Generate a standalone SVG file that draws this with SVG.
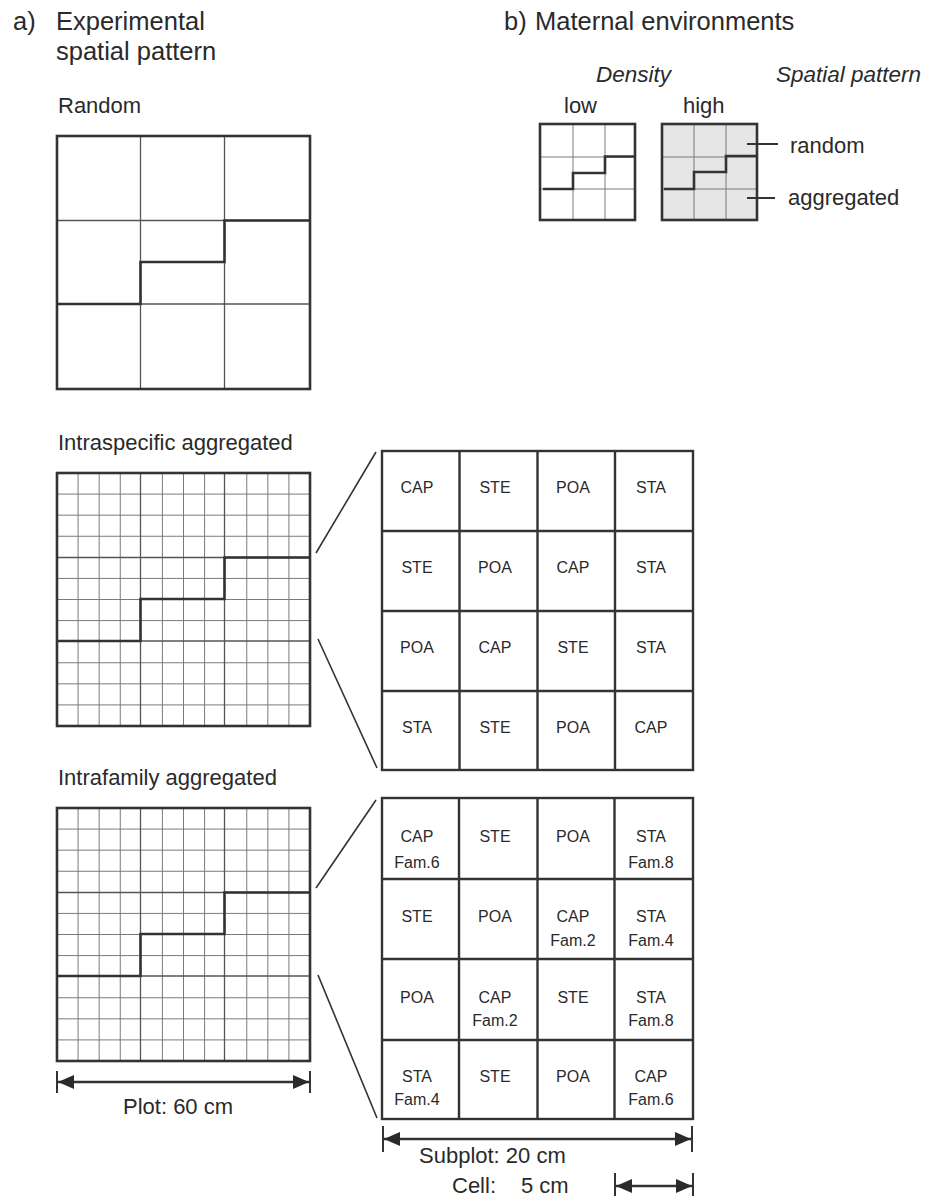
<svg xmlns="http://www.w3.org/2000/svg" xmlns:xlink="http://www.w3.org/1999/xlink" width="929" height="1196" viewBox="0 0 929 1196">
<style>
text{font-family:"Liberation Sans",Arial,Helvetica,sans-serif;fill:#2a2a2a}
.h{font-size:25.5px}
.l{font-size:22px}
.it{font-size:22.5px;font-style:italic}
.c{font-size:16px;text-anchor:middle}
.outer{fill:none;stroke:#333;stroke-width:2.6}
.third{fill:none;stroke:#555;stroke-width:1.3}
.fine{fill:none;stroke:#7a7a7a;stroke-width:1}
.stair{fill:none;stroke:#333;stroke-width:2.6}
.cell{fill:none;stroke:#333;stroke-width:2.4}
.conn{fill:none;stroke:#333;stroke-width:1.6}
.dim{fill:none;stroke:#333;stroke-width:2.4}
.tick{fill:none;stroke:#333;stroke-width:2}
</style>
<defs>
<marker id="ah" viewBox="0 0 16 14" refX="16" refY="7" markerWidth="16" markerHeight="14" markerUnits="userSpaceOnUse" orient="auto-start-reverse">
<path d="M0,0 L16,7 L0,14 z" fill="#2a2a2a"/>
</marker>
<g id="finelines">
<path class="fine" d="M21.08,0V253M42.17,0V253M63.25,0V253M105.42,0V253M126.5,0V253M147.58,0V253M189.75,0V253M210.83,0V253M231.92,0V253M0,21.08H253M0,42.17H253M0,63.25H253M0,105.42H253M0,126.5H253M0,147.58H253M0,189.75H253M0,210.83H253M0,231.92H253"/>
</g>
<g id="basegrid">
<path class="third" d="M83.5,0V253M167.5,0V253M0,84.5H253M0,168H253"/>
<path class="stair" d="M0,168H83.5V126H167.5V84.5H253"/>
<rect class="outer" x="0" y="0" width="253" height="253"/>
</g>
</defs>

<g id="header-a">
<text class="h" x="13" y="30">a)</text>
<text class="h" x="56" y="30">Experimental</text>
<text class="h" x="56" y="60">spatial pattern</text>
</g>
<g id="header-b">
<text class="h" x="504" y="30">b)</text>
<text class="h" x="535" y="30">Maternal environments</text>
<text class="it" x="596" y="82">Density</text>
<text class="it" x="776" y="82">Spatial pattern</text>
</g>

<g id="env-low">
<text class="l" x="564" y="113">low</text>
<path class="fine" d="M573,124V220M605,124V220M540,157H635M540,189H635"/>
<path class="stair" d="M543,189H573V173H605V156.5H635"/>
<rect class="outer" x="540" y="124" width="95" height="96"/>
</g>
<g id="env-high">
<text class="l" x="683" y="113">high</text>
<rect x="662" y="124" width="95" height="96" fill="#e6e6e6"/>
<path class="fine" d="M694,124V220M726,124V220M662,157H757M662,189H757"/>
<path class="stair" d="M664,189H694V172H726V156H757"/>
<rect class="outer" x="662" y="124" width="95" height="96"/>
</g>
<g id="env-labels">
<path class="tick" d="M747,144H778M747,198H775"/>
<text class="l" x="790" y="153">random</text>
<text class="l" x="788" y="205">aggregated</text>
</g>

<g id="random-plot">
<text class="l" x="58" y="113">Random</text>
<use xlink:href="#basegrid" href="#basegrid" x="57" y="136"/>
</g>

<g id="intraspecific-plot">
<text class="l" x="58" y="450">Intraspecific aggregated</text>
<use xlink:href="#finelines" href="#finelines" x="57" y="473"/>
<use xlink:href="#basegrid" href="#basegrid" x="57" y="473"/>
</g>

<g id="intrafamily-plot">
<text class="l" x="58" y="785">Intrafamily aggregated</text>
<use xlink:href="#finelines" href="#finelines" x="57" y="808"/>
<use xlink:href="#basegrid" href="#basegrid" x="57" y="808"/>
</g>

<g id="subplot-intraspecific">
<path class="cell" d="M459.5,451V770M537.5,451V770M615,451V770M382,531H693M382,611H693M382,691H693"/>
<rect class="cell" x="382" y="451" width="311" height="319"/>
<text class="c" x="417" y="493">CAP</text>
<text class="c" x="495" y="493">STE</text>
<text class="c" x="573" y="493">POA</text>
<text class="c" x="651" y="493">STA</text>
<text class="c" x="417" y="573">STE</text>
<text class="c" x="495" y="573">POA</text>
<text class="c" x="573" y="573">CAP</text>
<text class="c" x="651" y="573">STA</text>
<text class="c" x="417" y="653">POA</text>
<text class="c" x="495" y="653">CAP</text>
<text class="c" x="573" y="653">STE</text>
<text class="c" x="651" y="653">STA</text>
<text class="c" x="417" y="733">STA</text>
<text class="c" x="495" y="733">STE</text>
<text class="c" x="573" y="733">POA</text>
<text class="c" x="651" y="733">CAP</text>
</g>

<g id="subplot-intrafamily">
<path class="cell" d="M459,798V1119M537.5,798V1119M614.5,798V1119M382,879H693M382,959H693M382,1040H693"/>
<rect class="cell" x="382" y="798" width="311" height="321"/>
<text class="c" x="417" y="842">CAP</text>
<text class="c" x="417" y="868">Fam.6</text>
<text class="c" x="495" y="842">STE</text>
<text class="c" x="573" y="842">POA</text>
<text class="c" x="651" y="842">STA</text>
<text class="c" x="651" y="868">Fam.8</text>
<text class="c" x="417" y="922">STE</text>
<text class="c" x="495" y="922">POA</text>
<text class="c" x="573" y="922">CAP</text>
<text class="c" x="573" y="946">Fam.2</text>
<text class="c" x="651" y="922">STA</text>
<text class="c" x="651" y="946">Fam.4</text>
<text class="c" x="417" y="1003">POA</text>
<text class="c" x="495" y="1003">CAP</text>
<text class="c" x="495" y="1026">Fam.2</text>
<text class="c" x="573" y="1003">STE</text>
<text class="c" x="651" y="1003">STA</text>
<text class="c" x="651" y="1026">Fam.8</text>
<text class="c" x="417" y="1082">STA</text>
<text class="c" x="417" y="1105">Fam.4</text>
<text class="c" x="495" y="1082">STE</text>
<text class="c" x="573" y="1082">POA</text>
<text class="c" x="651" y="1082">CAP</text>
<text class="c" x="651" y="1105">Fam.6</text>
</g>

<g id="connectors">
<path class="conn" d="M316,553L376,452M318,639L377,768M316,888L376,800M318,975L377,1118"/>
</g>

<g id="dim-plot">
<path class="tick" d="M57,1071V1093M310,1071V1093"/>
<path class="dim" d="M58,1082H309" marker-start="url(#ah)" marker-end="url(#ah)"/>
<text class="l" x="123" y="1114">Plot: 60 cm</text>
</g>
<g id="dim-subplot">
<path class="tick" d="M383,1126V1152M692,1126V1152"/>
<path class="dim" d="M384,1139H691" marker-start="url(#ah)" marker-end="url(#ah)"/>
<text class="l" x="419" y="1163">Subplot: 20 cm</text>
</g>
<g id="dim-cell">
<path class="tick" d="M615,1173V1196M693,1173V1196"/>
<path class="dim" d="M616,1186H692" marker-start="url(#ah)" marker-end="url(#ah)"/>
<text class="l" x="452" y="1193">Cell:</text>
<text class="l" x="521" y="1193">5 cm</text>
</g>
</svg>
